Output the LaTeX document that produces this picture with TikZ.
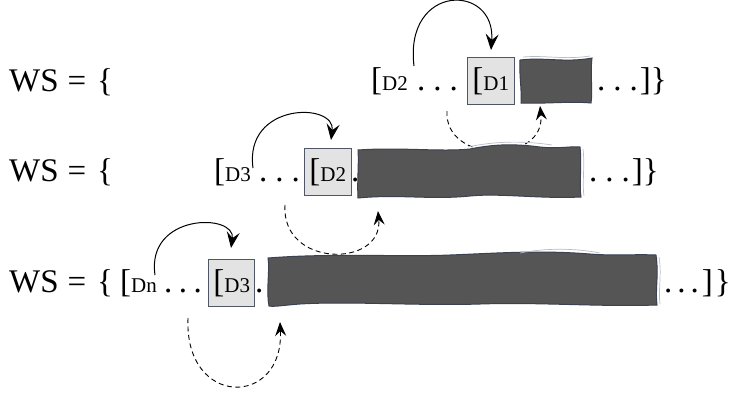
\documentclass[tikz,border=0pt]{standalone}
\usepackage{fontspec}
\setmainfont{Liberation Serif}
\usetikzlibrary{arrows.meta}
\definecolor{lightfill}{HTML}{E3E3E3}
\definecolor{boxline}{HTML}{4F5666}
\definecolor{darkfill}{HTML}{555555}
\definecolor{darkline}{HTML}{3B4150}
\definecolor{sketchline}{HTML}{B8BCC4}
\newcommand\bigf{\fontsize{33}{38}\selectfont}
\newcommand\smallf{\fontsize{21}{25}\selectfont}
\newcommand\tdots[1]{.\hspace{#1}.\hspace{#1}.}
\begin{document}
\begin{tikzpicture}[x=1pt,y=-1pt,
  txt/.style={anchor=base west, inner sep=0pt, font=\bigf},
  ctxt/.style={anchor=base, inner sep=0pt, font=\bigf},
  lbox/.style={anchor=base west, inner sep=0pt, draw=boxline, line width=0.8pt,
    fill=lightfill, text height=33pt, text depth=14pt, font=\bigf},
  barnode/.style={inner sep=0pt},
  darkbar/.style={fill=darkfill, draw=darkline, line width=1pt},
  sketchy/.style={draw=sketchline, line width=0.7pt},
  solidarr/.style={line width=1pt, -{Stealth[length=16pt,width=13pt,inset=6pt]}},
  dasharr/.style={line width=0.9pt, dash pattern=on 5pt off 3.5pt,
    -{Stealth[length=14pt,width=11pt,inset=5pt]}}
]
\useasboundingbox (0,0) rectangle (733,392);

% ---------- row 1 ----------
\node[txt]  (ws1) at (9,91) {WS};
\node[ctxt] (eq1) at (77,91) {=};
\node[ctxt] (cb1) at (105,91) {\{};
\node[txt]  (lab1) at (371,90) {[{\smallf D2}};
\node[txt]  (dl1) at (417,90) {\tdots{8pt}};
\node[lbox] (lb1) at (467,90) {\makebox[47pt][l]{\hspace{5pt}[{\smallf D1}}};
\node[barnode, minimum width=72pt, minimum height=45pt] (db1) at (556,80.5) {};
\path[darkbar] (520,60) .. controls (545,57) and (565,63) .. (592,58)
  .. controls (590,75) and (593,90) .. (591,103)
  .. controls (570,101) and (545,104) .. (521,103)
  .. controls (522,90) and (519,75) .. (520,60) -- cycle;
\draw[sketchy] (523,57) .. controls (545,55) and (565,60) .. (590,56);
\node[txt]  (dr1) at (597,90) {\tdots{8pt}\hspace{2pt}]\}};
\coordinate (s1) at (414,66);
\coordinate (e1) at (491,50);
\draw[solidarr] (s1) .. controls (404,-17) and (496,-17) .. (e1);
\coordinate (t1) at (447,111);
\coordinate (f1) at (540,106);
\draw[dasharr] (t1) .. controls (444,164) and (546,164) .. (f1);

% ---------- row 2 ----------
\node[txt]  (ws2) at (9,181) {WS};
\node[ctxt] (eq2) at (77,181) {=};
\node[ctxt] (cb2) at (105,181) {\{};
\node[txt]  (lab2) at (214,181) {[{\smallf D3}};
\node[txt]  (dl2) at (259,181) {\tdots{8pt}};
\node[lbox] (lb2) at (304,181) {\makebox[47pt][l]{\hspace{5pt}[{\smallf D2}}};
\node[txt]  (pd2) at (351,181) {.};
\node[barnode, minimum width=222pt, minimum height=50pt] (db2) at (469,172) {};
\path[darkbar] (358,150) .. controls (400,147) and (440,152) .. (470,149)
  .. controls (490,145) and (510,143) .. (540,147)
  .. controls (560,149) and (570,146) .. (580,147)
  .. controls (582,165) and (579,185) .. (581,197)
  .. controls (540,199) and (500,193) .. (470,196)
  .. controls (430,200) and (400,194) .. (358,198)
  .. controls (357,180) and (359,165) .. (358,150) -- cycle;
\draw[sketchy] (468,147) .. controls (490,142) and (520,140) .. (552,145);
\draw[sketchy] (583,149) .. controls (585,165) and (582,185) .. (584,196);
\node[txt]  (dr2) at (589,181) {\tdots{8pt}\hspace{2pt}]\}};
\coordinate (s2) at (253,168);
\coordinate (e2) at (331,140);
\draw[solidarr] (s2) .. controls (244,102) and (336,102) .. (e2);
\coordinate (t2) at (285,205);
\coordinate (f2) at (378,211);
\draw[dasharr] (t2) .. controls (281,268) and (383,268) .. (f2);

% ---------- row 3 ----------
\node[txt]  (ws3) at (9,292) {WS};
\node[ctxt] (eq3) at (77,292) {=};
\node[ctxt] (cb3) at (105,292) {\{};
\node[txt]  (lab3) at (120,292) {[{\smallf Dn}};
\node[txt]  (dl3) at (164,292) {\tdots{6.5pt}};
\node[lbox] (lb3) at (208,292) {\makebox[46pt][l]{\hspace{5pt}[{\smallf D3}}};
\node[txt]  (pd3) at (255,292) {.};
\node[barnode, minimum width=388pt, minimum height=50pt] (db3) at (462,280) {};
\path[darkbar] (268,258) .. controls (330,253) and (400,257) .. (450,255)
  .. controls (500,253) and (540,250) .. (590,254)
  .. controls (615,256) and (635,254) .. (656,255)
  .. controls (659,275) and (655,290) .. (657,305)
  .. controls (600,307) and (540,302) .. (480,304)
  .. controls (420,306) and (350,301) .. (300,304)
  .. controls (285,305) and (275,307) .. (269,306)
  .. controls (266,290) and (270,270) .. (268,258) -- cycle;
\draw[sketchy] (520,253) .. controls (545,248) and (575,248) .. (600,253);
\draw[sketchy] (659,257) .. controls (662,275) and (658,290) .. (660,304);
\node[txt]  (dr3) at (664,292) {\tdots{5pt}\hspace{3pt}]\hspace{2pt}\}};
\coordinate (s3) at (155,275);
\coordinate (e3) at (231,248);
\draw[solidarr] (s3) .. controls (146,213) and (236,213) .. (e3);
\coordinate (t3) at (188,318);
\coordinate (f3) at (280,322);
\draw[dasharr] (t3) .. controls (184,408) and (284,408) .. (f3);
\end{tikzpicture}
\end{document}
